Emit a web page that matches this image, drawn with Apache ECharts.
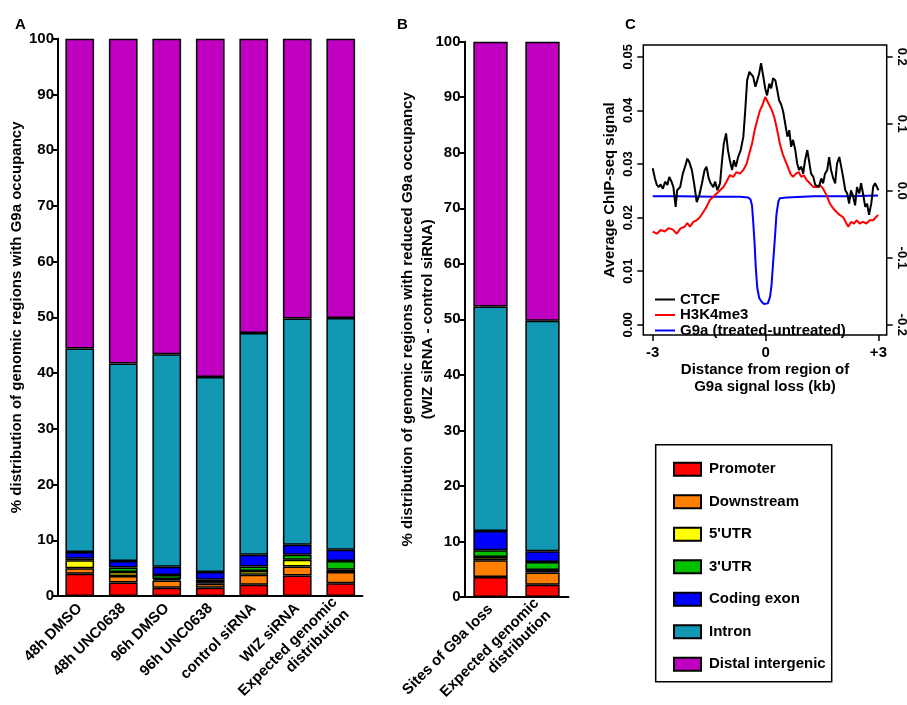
<!DOCTYPE html>
<html>
<head>
<meta charset="utf-8">
<script src="https://cdn.jsdelivr.net/npm/echarts@6/dist/echarts.min.js"></script>
<style>
  html, body { margin: 0; padding: 0; background: #fff; }
  #chart { width: 907px; height: 705px; }
</style>
</head>
<body>
<div id="chart"></div>
<script>
// categories
var catsA = ['48h DMSO', '48h UNC0638', '96h DMSO', '96h UNC0638', 'control siRNA', 'WIZ siRNA', 'Expected genomic\ndistribution'];
var catsB = ['Sites of G9a loss', 'Expected genomic\ndistribution'];
var regions = ['Promoter', 'Downstream', "5'UTR", "3'UTR", 'Coding exon', 'Intron', 'Distal intergenic'];
var regionColors = ['#ff0000', '#ff8000', '#ffff00', '#00c000', '#0000ff', '#1398b3', '#c000c0'];

// panel A, % per region (bottom to top)
var promoterA = [4.0, 2.4, 1.5, 1.5, 2.0, 3.7, 2.3];
var downstreamA = [1.0, 1.2, 1.3, 0.7, 1.8, 1.6, 2.0];
var utr5A = [1.4, 0.7, 0.25, 0.3, 0.7, 1.2, 0.4];
var utr3A = [0.3, 0.8, 0.7, 0.4, 0.8, 0.9, 1.6];
var exonA = [1.2, 1.2, 1.5, 1.4, 2.1, 1.8, 2.0];
var intronA = [36.5, 35.4, 38.15, 35.0, 39.8, 40.6, 41.6];
var distalA = [55.6, 58.3, 56.6, 60.7, 52.8, 50.2, 50.1];

// panel B
var promoterB = [3.6, 2.2];
var downstreamB = [3.0, 2.2];
var utr5B = [0.6, 0.45];
var utr3B = [1.2, 1.45];
var exonB = [3.5, 1.95];
var intronB = [40.4, 41.5];
var distalB = [47.7, 50.25];

// panel C, [kb, signal]
var ctcf = [[-3.00,0.0292],[-2.94,0.0273],[-2.89,0.0261],[-2.84,0.0257],[-2.79,0.0262],[-2.73,0.0254],[-2.67,0.0267],[-2.61,0.0261],[-2.56,0.0276],[-2.50,0.0267],[-2.45,0.0257],[-2.39,0.0220],[-2.35,0.0251],[-2.27,0.0257],[-2.20,0.0282],[-2.14,0.0295],[-2.08,0.0310],[-2.03,0.0304],[-1.96,0.0289],[-1.90,0.0264],[-1.83,0.0229],[-1.76,0.0242],[-1.69,0.0264],[-1.62,0.0289],[-1.57,0.0295],[-1.51,0.0273],[-1.46,0.0264],[-1.39,0.0257],[-1.34,0.0267],[-1.28,0.0251],[-1.21,0.0264],[-1.16,0.0304],[-1.11,0.0338],[-1.05,0.0357],[-1.00,0.0326],[-0.95,0.0307],[-0.89,0.0289],[-0.84,0.0307],[-0.79,0.0295],[-0.73,0.0313],[-0.66,0.0326],[-0.59,0.0351],[-0.54,0.0400],[-0.49,0.0456],[-0.43,0.0472],[-0.38,0.0469],[-0.33,0.0463],[-0.27,0.0444],[-0.22,0.0456],[-0.17,0.0469],[-0.12,0.0488],[-0.06,0.0463],[-0.01,0.0441],[0.04,0.0428],[0.10,0.0450],[0.15,0.0441],[0.20,0.0460],[0.26,0.0456],[0.31,0.0438],[0.36,0.0419],[0.42,0.0410],[0.47,0.0397],[0.52,0.0400],[0.58,0.0351],[0.63,0.0363],[0.68,0.0332],[0.73,0.0345],[0.79,0.0326],[0.84,0.0301],[0.89,0.0289],[0.95,0.0295],[1.00,0.0282],[1.05,0.0307],[1.11,0.0326],[1.16,0.0304],[1.21,0.0282],[1.27,0.0276],[1.32,0.0261],[1.37,0.0264],[1.42,0.0257],[1.48,0.0273],[1.53,0.0264],[1.58,0.0282],[1.64,0.0289],[1.69,0.0313],[1.74,0.0289],[1.80,0.0273],[1.85,0.0264],[1.90,0.0301],[1.96,0.0313],[2.01,0.0295],[2.06,0.0276],[2.12,0.0251],[2.17,0.0245],[2.22,0.0226],[2.27,0.0251],[2.33,0.0239],[2.38,0.0223],[2.43,0.0257],[2.49,0.0245],[2.54,0.0264],[2.59,0.0245],[2.65,0.0220],[2.70,0.0226],[2.75,0.0205],[2.81,0.0226],[2.86,0.0257],[2.91,0.0264],[2.96,0.0257],[3.00,0.0251]];
var h3k4me3 = [[-3.00,0.0174],[-2.89,0.0170],[-2.79,0.0177],[-2.68,0.0174],[-2.58,0.0180],[-2.47,0.0178],[-2.36,0.0170],[-2.26,0.0180],[-2.15,0.0183],[-2.08,0.0190],[-2.01,0.0183],[-1.92,0.0192],[-1.83,0.0195],[-1.74,0.0201],[-1.65,0.0211],[-1.57,0.0220],[-1.48,0.0233],[-1.39,0.0239],[-1.30,0.0245],[-1.21,0.0251],[-1.12,0.0257],[-1.04,0.0267],[-0.95,0.0279],[-0.86,0.0276],[-0.77,0.0285],[-0.68,0.0282],[-0.59,0.0289],[-0.50,0.0301],[-0.43,0.0320],[-0.36,0.0338],[-0.29,0.0363],[-0.22,0.0382],[-0.15,0.0400],[-0.08,0.0410],[-0.01,0.0425],[0.04,0.0428],[0.10,0.0410],[0.17,0.0400],[0.24,0.0385],[0.31,0.0363],[0.38,0.0338],[0.45,0.0320],[0.52,0.0307],[0.59,0.0295],[0.66,0.0282],[0.73,0.0276],[0.81,0.0282],[0.88,0.0285],[0.95,0.0276],[1.02,0.0279],[1.09,0.0270],[1.18,0.0264],[1.27,0.0257],[1.35,0.0257],[1.44,0.0261],[1.53,0.0254],[1.62,0.0242],[1.71,0.0226],[1.80,0.0217],[1.88,0.0211],[1.97,0.0205],[2.06,0.0201],[2.15,0.0189],[2.20,0.0183],[2.27,0.0192],[2.35,0.0189],[2.42,0.0195],[2.50,0.0189],[2.59,0.0192],[2.68,0.0189],[2.77,0.0195],[2.86,0.0195],[2.99,0.0205]];
var g9a = [[-3.00,-0.008],[-2.27,-0.008],[-1.39,-0.009],[-0.68,-0.009],[-0.46,-0.010],[-0.40,-0.013],[-0.36,-0.022],[-0.33,-0.045],[-0.29,-0.080],[-0.26,-0.115],[-0.22,-0.145],[-0.17,-0.160],[-0.10,-0.166],[-0.04,-0.169],[0.01,-0.171],[0.06,-0.168],[0.12,-0.158],[0.16,-0.140],[0.20,-0.108],[0.25,-0.069],[0.29,-0.035],[0.34,-0.016],[0.38,-0.011],[0.56,-0.010],[1.27,-0.008],[2.15,-0.008],[2.99,-0.007]];

var fontFam = '"Liberation Sans", Arial, sans-serif';
var lbl = { color: '#000', fontWeight: 'bold', fontSize: 15, fontFamily: fontFam };

var myChart = echarts.init(document.getElementById('chart'));

function barSeries(name, color, data, axis, stack){
  return {
    name: name,
    type: 'bar',
    stack: stack,
    xAxisIndex: axis,
    yAxisIndex: axis,
    barWidth: '66%',
    data: data,
    itemStyle: { color: color, borderColor: '#000', borderWidth: 1.5 }
  };
}

var dataA = [promoterA, downstreamA, utr5A, utr3A, exonA, intronA, distalA];
var dataB = [promoterB, downstreamB, utr5B, utr3B, exonB, intronB, distalB];
var series = [];
for (let i = 0; i < regions.length; i++) {
  series.push(barSeries(regions[i], regionColors[i], dataA[i], 0, 'A'));
}
for (let i = 0; i < regions.length; i++) {
  series.push(barSeries(regions[i], regionColors[i], dataB[i], 1, 'B'));
}
series.push({ name: 'G9a (treated-untreated)', type: 'line', xAxisIndex: 2, yAxisIndex: 3, data: g9a,
  showSymbol: false, lineStyle: { color: '#0000ff', width: 2 }, itemStyle: { color: '#0000ff' } });
series.push({ name: 'H3K4me3', type: 'line', xAxisIndex: 2, yAxisIndex: 2, data: h3k4me3,
  showSymbol: false, lineStyle: { color: '#ff0000', width: 2 }, itemStyle: { color: '#ff0000' } });
series.push({ name: 'CTCF', type: 'line', xAxisIndex: 2, yAxisIndex: 2, data: ctcf,
  showSymbol: false, lineStyle: { color: '#000', width: 2 }, itemStyle: { color: '#000' } });

var blackLine = { lineStyle: { color: '#000', width: 2 } };

var catAxis = function(grid, cats){
  return {
    type: 'category', gridIndex: grid, data: cats,
    axisLine: blackLine,
    axisTick: { alignWithLabel: true, length: 6, lineStyle: { color: '#000', width: 2 } },
    axisLabel: Object.assign({ rotate: 45, interval: 0, margin: 10, lineHeight: 17 }, lbl)
  };
};
var pctAxis = function(grid, name, gap){
  return {
    type: 'value', gridIndex: grid, min: 0, max: 100, interval: 10,
    axisLine: { show: true, lineStyle: { color: '#000', width: 2 } },
    axisTick: { show: true, length: 5, lineStyle: { color: '#000', width: 2 } },
    splitLine: { show: false },
    axisLabel: Object.assign({ margin: 4 }, lbl),
    name: name, nameLocation: 'middle', nameGap: gap, nameMoveOverlap: false,
    nameTextStyle: Object.assign({ lineHeight: 20 }, lbl)
  };
};

var option = {
  backgroundColor: '#fff',
  animation: false,
  title: [
    { text: 'A', left: 10, top: 12, textStyle: lbl },
    { text: 'B', left: 392, top: 12, textStyle: lbl },
    { text: 'C', left: 620, top: 12, textStyle: lbl }
  ],
  grid: [
    { left: 58, top: 38.7, width: 304.5, height: 557.3, outerBoundsMode: 'none' },
    { left: 464.5, top: 41.7, width: 104, height: 555.3, outerBoundsMode: 'none' },
    { left: 643.3, top: 45, width: 243.4, height: 290, show: true, borderColor: '#000', borderWidth: 1.5, outerBoundsMode: 'none' }
  ],
  legend: [
    {
      data: regions, orient: 'vertical', left: 668, top: 456.8,
      itemWidth: 27, itemHeight: 13, itemGap: 17.5, icon: 'rect', selectedMode: false,
      textStyle: Object.assign({ lineHeight: 15, padding: [0, 0, 0, 3] }, lbl)
    },
    {
      data: ['CTCF', 'H3K4me3', 'G9a (treated-untreated)'], orient: 'vertical', left: 650, top: 287,
      itemWidth: 20, itemHeight: 2, itemGap: 0.5, icon: 'rect', selectedMode: false,
      textStyle: Object.assign({}, lbl, { fontSize: 15, lineHeight: 13 })
    }
  ],
  graphic: [
    { type: 'rect', shape: { x: 655.7, y: 444.7, width: 176, height: 237 },
      style: { fill: 'none', stroke: '#000', lineWidth: 1.5 } }
  ],
  xAxis: [
    catAxis(0, catsA),
    catAxis(1, catsB),
    {
      type: 'value', gridIndex: 2, min: -3.25, max: 3.22,
      axisLine: { show: false, onZero: false },
      splitLine: { show: false },
      axisTick: { show: true, customValues: [-3, 0, 3], length: 6, lineStyle: { color: '#000', width: 1.5 } },
      axisLabel: Object.assign({ customValues: [-3, 0, 3], margin: 10,
        formatter: function(v){ return v > 0 ? '+' + v : String(v); } }, lbl),
      name: 'Distance from region of\nG9a signal loss (kb)', nameLocation: 'middle', nameGap: 23,
      nameTextStyle: Object.assign({ lineHeight: 17, verticalAlign: 'top' }, lbl)
    }
  ],
  yAxis: [
    pctAxis(0, '% distribution of genomic regions with G9a occupancy', 31),
    pctAxis(1, '% distribution of genomic regions with reduced G9a occupancy\n(WIZ siRNA - control siRNA)', 27),
    {
      type: 'value', gridIndex: 2, min: -0.0019, max: 0.0522,
      axisLine: { show: false, onZero: false },
      splitLine: { show: false },
      axisTick: { show: true, customValues: [0, 0.01, 0.02, 0.03, 0.04, 0.05], length: 6, lineStyle: { color: '#000', width: 1.5 } },
      axisLabel: Object.assign({}, lbl, { fontSize: 13, rotate: 90, margin: 8,
        customValues: [0, 0.01, 0.02, 0.03, 0.04, 0.05],
        formatter: function(v){ return v.toFixed(2); } }),
      name: 'Average ChIP-seq signal', nameLocation: 'middle', nameGap: 26,
      nameTextStyle: lbl
    },
    {
      type: 'value', gridIndex: 2, position: 'right', min: -0.2152, max: 0.2176,
      axisLine: { show: false, onZero: false },
      splitLine: { show: false },
      axisTick: { show: true, customValues: [-0.2, -0.1, 0, 0.1, 0.2], length: 6, lineStyle: { color: '#000', width: 1.5 } },
      axisLabel: Object.assign({}, lbl, { fontSize: 13, rotate: -90, margin: 8,
        customValues: [-0.2, -0.1, 0, 0.1, 0.2],
        formatter: function(v){ return v.toFixed(1); } })
    }
  ],
  series: series
};
myChart.setOption(option);
</script>
</body>
</html>
